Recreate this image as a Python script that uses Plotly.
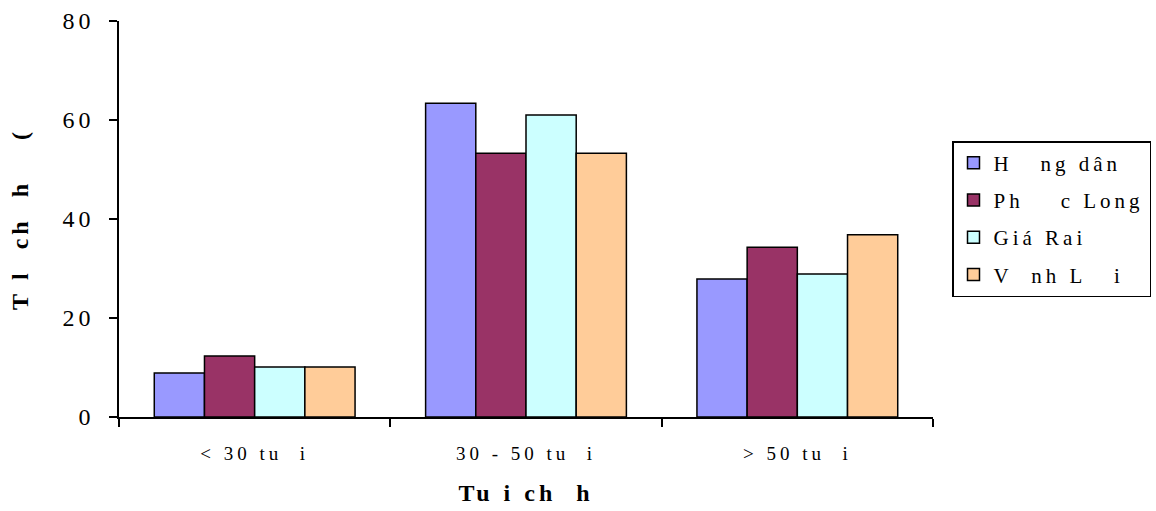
import json
import plotly.graph_objects as go

categories = ["< 30 tu\u00a0\u00a0i", "30 - 50 tu\u00a0\u00a0i", "> 50 tu\u00a0\u00a0i"]
series_names = ["H\u00a0\u00a0\u00a0ng dân", "Ph\u00a0\u00a0\u00a0\u00a0c Long", "Giá Rai", "V\u00a0\u00a0nh L\u00a0\u00a0\u00a0i"]
hong_dan = [8.9, 63.4, 27.9]
phuoc_long = [12.3, 53.3, 34.3]
gia_rai = [10.1, 61.0, 28.9]
vinh_loi = [10.1, 53.3, 36.8]
colors = ["#9999FF", "#993366", "#CCFFFF", "#FFCC99"]
x_title = "Tu\u00a0i\u00a0ch\u00a0\u00a0h"
y_title = "T\u00a0l\u00a0\u00a0ch\u00a0\u00a0h\u00a0\u00a0\u00a0\u00a0("

font_family = "Liberation Serif, Times New Roman, serif"
FS_YTICK = 24
FS_XTICK = 19
FS_LEGEND = 21
FS_TITLE = 24

fig = go.Figure()
for i, (name, vals) in enumerate(zip(series_names, [hong_dan, phuoc_long, gia_rai, vinh_loi])):
    fig.add_trace(go.Bar(
        x=categories, y=vals, name=name,
        marker=dict(color=colors[i], line=dict(color="black", width=1.5)),
        legendgroup=str(i),
    ))

fig.update_layout(
    width=1156, height=511,
    margin=dict(l=119, r=223, t=21, b=94, autoexpand=False),
    paper_bgcolor="white", plot_bgcolor="white",
    barmode="group", bargap=0.26, bargroupgap=0,
    font=dict(family=font_family, size=20, color="black"),
    showlegend=True,
    legend=dict(
        xref="container", yref="container",
        x=952 / 1156, y=1 - 141 / 511, xanchor="left", yanchor="top",
        bordercolor="black", borderwidth=1.5,
        font=dict(size=FS_LEGEND),
        tracegroupgap=7, traceorder="grouped",
    ),
    xaxis=dict(
        showline=True, linecolor="black", linewidth=1.5,
        ticks="outside", tickson="boundaries", ticklen=8, tickcolor="black", tickwidth=1.5,
        ticklabelstandoff=18,
        tickfont=dict(size=FS_XTICK),
        title=dict(text="<b>" + x_title + "</b>", font=dict(size=FS_TITLE), standoff=22),
        showgrid=False,
    ),
    yaxis=dict(
        range=[0, 80], dtick=20,
        showline=True, linecolor="black", linewidth=1.5,
        ticks="outside", ticklen=8, tickcolor="black", tickwidth=1.5,
        ticklabelstandoff=10,
        tickfont=dict(size=FS_YTICK),
        title=dict(text="<b>" + y_title + "</b>", font=dict(size=FS_TITLE), standoff=27),
        showgrid=False, zeroline=False,
    ),
)

# Re-measure text after adding letter spacing (tiny size change forces fresh measurement)
bump = {
    "font.size": 20.001,
    "legend.font.size": FS_LEGEND + 0.001,
    "xaxis.tickfont.size": FS_XTICK + 0.001,
    "yaxis.tickfont.size": FS_YTICK + 0.001,
    "xaxis.title.font.size": FS_TITLE + 0.001,
    "yaxis.title.font.size": FS_TITLE + 0.001,
}
post = """
var gd = document.getElementById('{plot_id}');
var st = document.createElement('style');
st.textContent = 'text { letter-spacing: 4px; }';
document.head.appendChild(st);
return Plotly.relayout(gd, %s);
""" % json.dumps(bump)

fig.write_html("out.html", post_script=post)
